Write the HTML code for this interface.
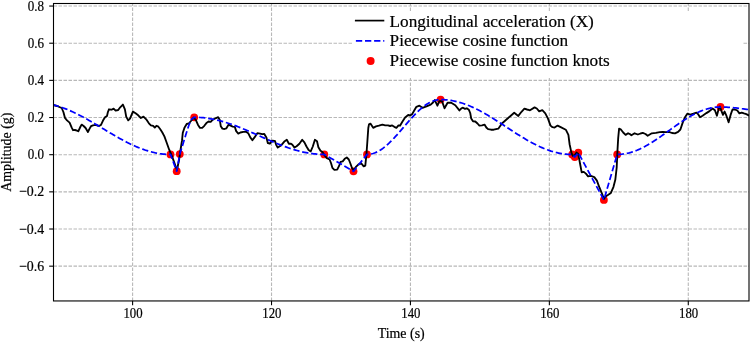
<!DOCTYPE html>
<html><head><meta charset="utf-8"><style>
html,body{margin:0;padding:0;background:#fff;}
svg{display:block;will-change:transform;}
text{font-family:"Liberation Serif",serif;fill:#000;stroke:#000;stroke-width:0.2px;}
</style></head><body>
<svg width="751" height="342" viewBox="0 0 751 342">
<rect width="751" height="342" fill="#fff"/>
<line x1="132.60" y1="300.95" x2="132.60" y2="3.5" stroke="#b8b8b8" stroke-width="1.1" stroke-dasharray="3.5 1.5"/>
<line x1="271.52" y1="300.95" x2="271.52" y2="3.5" stroke="#b8b8b8" stroke-width="1.1" stroke-dasharray="3.5 1.5"/>
<line x1="410.44" y1="300.95" x2="410.44" y2="3.5" stroke="#b8b8b8" stroke-width="1.1" stroke-dasharray="3.5 1.5"/>
<line x1="549.36" y1="300.95" x2="549.36" y2="3.5" stroke="#b8b8b8" stroke-width="1.1" stroke-dasharray="3.5 1.5"/>
<line x1="688.28" y1="300.95" x2="688.28" y2="3.5" stroke="#b8b8b8" stroke-width="1.1" stroke-dasharray="3.5 1.5"/>
<line x1="53.5" y1="6.05" x2="749.0" y2="6.05" stroke="#b8b8b8" stroke-width="1.1" stroke-dasharray="3.5 1.5"/>
<line x1="53.5" y1="43.21" x2="749.0" y2="43.21" stroke="#b8b8b8" stroke-width="1.1" stroke-dasharray="3.5 1.5"/>
<line x1="53.5" y1="80.37" x2="749.0" y2="80.37" stroke="#b8b8b8" stroke-width="1.1" stroke-dasharray="3.5 1.5"/>
<line x1="53.5" y1="117.53" x2="749.0" y2="117.53" stroke="#b8b8b8" stroke-width="1.1" stroke-dasharray="3.5 1.5"/>
<line x1="53.5" y1="154.69" x2="749.0" y2="154.69" stroke="#b8b8b8" stroke-width="1.1" stroke-dasharray="3.5 1.5"/>
<line x1="53.5" y1="191.85" x2="749.0" y2="191.85" stroke="#b8b8b8" stroke-width="1.1" stroke-dasharray="3.5 1.5"/>
<line x1="53.5" y1="229.01" x2="749.0" y2="229.01" stroke="#b8b8b8" stroke-width="1.1" stroke-dasharray="3.5 1.5"/>
<line x1="53.5" y1="266.17" x2="749.0" y2="266.17" stroke="#b8b8b8" stroke-width="1.1" stroke-dasharray="3.5 1.5"/>
<defs><clipPath id="ax"><rect x="53.5" y="3.5" width="695.5" height="297.45"/></clipPath></defs>
<g clip-path="url(#ax)">
<circle cx="34.8" cy="102.5" r="3.9" fill="#ff0000"/>
<circle cx="170.5" cy="154.4" r="3.9" fill="#ff0000"/>
<circle cx="176.7" cy="171.2" r="3.9" fill="#ff0000"/>
<circle cx="179.8" cy="154.1" r="3.9" fill="#ff0000"/>
<circle cx="194.2" cy="117.3" r="3.9" fill="#ff0000"/>
<circle cx="324.3" cy="154.4" r="3.9" fill="#ff0000"/>
<circle cx="353.5" cy="171.3" r="3.9" fill="#ff0000"/>
<circle cx="367.0" cy="154.4" r="3.9" fill="#ff0000"/>
<circle cx="440.6" cy="99.6" r="3.9" fill="#ff0000"/>
<circle cx="572.2" cy="154.5" r="3.9" fill="#ff0000"/>
<circle cx="574.8" cy="157.0" r="3.9" fill="#ff0000"/>
<circle cx="578.3" cy="152.7" r="3.9" fill="#ff0000"/>
<circle cx="603.9" cy="199.9" r="3.9" fill="#ff0000"/>
<circle cx="617.2" cy="154.4" r="3.9" fill="#ff0000"/>
<circle cx="720.5" cy="107.0" r="3.9" fill="#ff0000"/>
<circle cx="763.5" cy="110.5" r="3.9" fill="#ff0000"/>
<polyline points="53.00,105.00 57.00,106.00 61.70,108.00 63.40,112.00 65.00,118.00 67.00,120.40 69.60,122.60 71.60,127.30 73.00,130.20 75.00,130.00 77.00,130.60 78.30,131.30 80.30,127.00 81.60,124.60 83.60,126.00 85.60,128.00 87.90,132.00 89.60,128.60 91.00,126.20 93.00,125.30 95.60,124.90 99.00,126.00 101.00,124.90 103.00,120.60 105.00,117.30 107.00,116.00 107.90,112.00 109.00,109.30 111.60,109.70 113.60,108.60 115.60,110.60 118.20,110.00 120.20,107.30 122.90,104.60 124.90,109.30 126.20,116.60 128.20,120.40 130.00,118.60 132.90,111.60 135.60,113.30 138.20,115.30 140.90,118.00 143.50,116.60 146.20,119.30 148.90,123.30 150.90,125.30 153.20,125.80 154.80,127.60 156.40,125.80 158.00,126.30 160.10,129.00 162.20,132.20 164.40,136.40 165.90,140.50 169.20,149.70 172.50,157.60 175.80,166.80 177.00,169.80 179.00,160.30 180.50,150.00 182.00,140.70 182.80,132.70 184.60,127.40 186.70,124.00 188.90,123.30 191.00,121.00 193.70,117.60 195.80,119.90 197.90,124.70 200.00,127.90 202.20,127.90 204.30,125.80 206.40,123.10 208.60,121.50 210.70,121.80 212.80,119.70 215.50,118.30 218.20,117.20 219.80,119.90 220.80,126.30 222.40,128.60 224.50,129.00 226.40,128.30 228.50,124.70 230.60,125.70 232.70,126.60 234.80,126.90 236.20,131.10 238.30,133.60 240.40,132.50 243.30,131.80 246.10,131.80 248.20,133.20 250.30,137.40 252.40,140.20 254.50,137.40 257.30,133.20 260.10,133.60 262.20,134.20 264.30,133.90 266.40,137.40 267.80,143.00 269.90,143.70 272.00,140.60 274.90,140.90 276.30,145.10 277.70,147.60 279.80,146.20 282.60,143.70 284.70,141.20 286.80,139.80 288.90,143.70 291.00,143.70 292.40,144.80 294.50,147.60 296.60,146.20 299.40,143.70 302.20,139.80 304.40,142.30 306.50,146.50 308.60,150.00 310.70,151.40 312.80,146.50 314.90,139.80 317.00,141.20 318.40,147.20 320.50,150.70 322.50,152.00 324.10,154.70 326.90,158.20 329.60,159.50 331.00,163.00 332.40,167.80 334.40,169.80 337.20,169.60 339.20,165.70 340.60,161.90 342.70,161.30 344.70,158.80 346.80,157.50 348.80,159.50 350.20,163.00 351.90,167.80 353.70,170.50 355.70,167.10 358.50,164.30 361.20,163.20 363.70,166.40 365.30,165.70 366.40,154.70 367.40,141.00 368.30,128.00 369.00,124.30 370.40,123.60 373.20,127.80 376.00,126.40 378.90,125.70 382.40,124.60 385.20,125.40 388.00,125.40 390.10,126.00 392.20,125.40 394.30,126.80 396.40,127.80 398.50,125.40 400.00,125.70 402.50,121.50 405.10,117.50 408.20,115.00 410.20,115.50 412.30,113.90 414.50,110.00 416.40,106.80 419.40,105.70 422.50,107.80 426.50,106.30 430.70,104.70 433.00,102.50 434.80,100.10 437.40,105.70 439.40,101.10 442.00,101.10 444.50,108.30 447.60,102.70 451.20,102.70 455.30,105.20 459.40,110.40 461.40,108.30 463.00,107.70 465.00,108.90 466.80,108.30 468.80,109.70 470.20,113.00 471.20,118.50 473.00,121.30 475.30,121.50 477.50,123.50 479.40,125.60 482.00,125.30 484.50,124.60 486.30,127.50 488.10,129.20 491.00,129.70 493.70,129.70 498.30,128.70 501.90,123.50 504.50,121.20 507.00,119.00 510.50,116.00 514.20,112.80 518.30,115.90 521.50,111.80 524.40,108.70 527.00,109.50 529.50,110.20 530.00,110.20 534.60,107.40 536.80,108.50 539.20,111.30 542.30,110.20 545.30,113.30 547.90,118.40 550.50,125.60 552.50,127.20 554.60,127.60 557.60,125.60 560.70,127.10 565.80,129.70 568.40,134.80 569.60,144.20 571.40,152.60 572.80,155.80 574.60,155.20 576.60,152.60 578.10,153.80 579.30,159.60 580.50,166.00 581.70,172.40 583.80,171.90 585.90,173.60 588.10,176.30 590.80,175.90 594.30,177.10 596.90,180.60 599.50,187.70 602.10,193.80 603.90,199.00 605.60,196.40 608.30,194.70 610.90,192.90 613.50,186.80 615.30,179.80 616.70,167.50 617.50,150.00 618.20,138.00 619.10,128.70 620.70,129.30 623.20,132.50 625.60,134.90 628.10,133.30 629.80,134.00 631.40,135.30 634.60,133.30 637.90,134.50 640.50,133.50 642.80,132.90 645.50,134.00 647.70,135.70 651.80,133.30 655.90,132.90 659.70,132.10 662.80,131.80 665.90,132.10 668.90,131.80 672.00,133.00 675.00,133.30 678.10,131.80 680.40,129.50 682.70,122.60 685.00,117.20 687.30,113.70 690.40,114.60 693.40,113.70 696.50,112.60 698.00,114.10 700.00,117.20 702.60,115.70 706.40,113.10 709.50,111.10 712.60,108.50 714.90,110.30 716.90,115.70 718.70,108.80 719.90,106.50 721.50,111.10 723.00,114.90 724.50,111.50 726.40,115.70 728.60,122.30 730.60,114.90 732.50,109.50 734.80,109.50 737.10,110.30 739.40,113.40 741.70,112.60 744.00,113.40 746.30,114.10 749.30,115.70" fill="none" stroke="#000" stroke-width="1.85" stroke-linejoin="round" stroke-linecap="butt"/>
<polyline points="34.80,102.50 36.31,102.52 37.82,102.56 39.32,102.64 40.83,102.75 42.34,102.89 43.85,103.07 45.35,103.27 46.86,103.51 48.37,103.77 49.88,104.06 51.39,104.39 52.89,104.74 54.40,105.13 55.91,105.54 57.42,105.98 58.92,106.44 60.43,106.94 61.94,107.46 63.45,108.00 64.96,108.57 66.46,109.17 67.97,109.78 69.48,110.42 70.99,111.09 72.49,111.77 74.00,112.47 75.51,113.20 77.02,113.94 78.53,114.70 80.03,115.47 81.54,116.27 83.05,117.07 84.56,117.90 86.06,118.73 87.57,119.57 89.08,120.43 90.59,121.30 92.10,122.17 93.60,123.05 95.11,123.94 96.62,124.84 98.13,125.74 99.63,126.64 101.14,127.54 102.65,128.45 104.16,129.36 105.67,130.26 107.17,131.16 108.68,132.06 110.19,132.96 111.70,133.85 113.20,134.73 114.71,135.60 116.22,136.47 117.73,137.33 119.24,138.17 120.74,139.00 122.25,139.83 123.76,140.63 125.27,141.43 126.77,142.20 128.28,142.96 129.79,143.70 131.30,144.43 132.81,145.13 134.31,145.81 135.82,146.48 137.33,147.12 138.84,147.73 140.34,148.33 141.85,148.90 143.36,149.44 144.87,149.96 146.38,150.46 147.88,150.92 149.39,151.36 150.90,151.77 152.41,152.16 153.91,152.51 155.42,152.84 156.93,153.13 158.44,153.39 159.95,153.63 161.45,153.83 162.96,154.01 164.47,154.15 165.98,154.26 167.48,154.34 168.99,154.38 170.50,154.40 176.70,171.20 179.80,154.10 181.00,150.30 183.80,141.30 186.50,132.60 189.20,124.30 191.60,119.20 194.20,117.30 195.71,117.31 197.23,117.35 198.74,117.41 200.25,117.50 201.76,117.61 203.28,117.74 204.79,117.90 206.30,118.09 207.82,118.29 209.33,118.52 210.84,118.78 212.35,119.05 213.87,119.35 215.38,119.67 216.89,120.02 218.40,120.38 219.92,120.76 221.43,121.17 222.94,121.59 224.46,122.03 225.97,122.50 227.48,122.97 228.99,123.47 230.51,123.98 232.02,124.51 233.53,125.06 235.05,125.61 236.56,126.19 238.07,126.77 239.58,127.37 241.10,127.98 242.61,128.60 244.12,129.22 245.63,129.86 247.15,130.51 248.66,131.16 250.17,131.82 251.69,132.48 253.20,133.15 254.71,133.82 256.22,134.50 257.74,135.17 259.25,135.85 260.76,136.53 262.28,137.20 263.79,137.88 265.30,138.55 266.81,139.22 268.33,139.88 269.84,140.54 271.35,141.19 272.87,141.84 274.38,142.48 275.89,143.10 277.40,143.72 278.92,144.33 280.43,144.93 281.94,145.51 283.45,146.09 284.97,146.64 286.48,147.19 287.99,147.72 289.51,148.23 291.02,148.73 292.53,149.20 294.04,149.67 295.56,150.11 297.07,150.53 298.58,150.94 300.10,151.32 301.61,151.68 303.12,152.03 304.63,152.35 306.15,152.65 307.66,152.92 309.17,153.18 310.68,153.41 312.20,153.61 313.71,153.80 315.22,153.96 316.74,154.09 318.25,154.20 319.76,154.29 321.27,154.35 322.79,154.39 324.30,154.40 353.50,171.30 367.00,154.40 368.50,154.34 370.00,154.18 371.51,153.89 373.01,153.50 374.51,153.00 376.01,152.40 377.51,151.69 379.02,150.87 380.52,149.96 382.02,148.96 383.52,147.86 385.02,146.68 386.53,145.42 388.03,144.08 389.53,142.68 391.03,141.20 392.53,139.67 394.04,138.09 395.54,136.46 397.04,134.80 398.54,133.10 400.04,131.37 401.55,129.63 403.05,127.88 404.55,126.12 406.05,124.37 407.56,122.63 409.06,120.90 410.56,119.20 412.06,117.54 413.56,115.91 415.07,114.33 416.57,112.80 418.07,111.32 419.57,109.92 421.07,108.58 422.58,107.32 424.08,106.14 425.58,105.04 427.08,104.04 428.58,103.13 430.09,102.31 431.59,101.60 433.09,101.00 434.59,100.50 436.09,100.11 437.60,99.82 439.10,99.66 440.60,99.60 442.11,99.62 443.63,99.67 445.14,99.76 446.65,99.89 448.16,100.05 449.68,100.24 451.19,100.47 452.70,100.74 454.21,101.04 455.73,101.37 457.24,101.74 458.75,102.14 460.26,102.57 461.78,103.03 463.29,103.53 464.80,104.06 466.31,104.61 467.83,105.20 469.34,105.81 470.85,106.45 472.37,107.12 473.88,107.82 475.39,108.54 476.90,109.28 478.42,110.05 479.93,110.84 481.44,111.65 482.95,112.48 484.47,113.32 485.98,114.19 487.49,115.08 489.00,115.98 490.52,116.89 492.03,117.82 493.54,118.76 495.06,119.71 496.57,120.67 498.08,121.63 499.59,122.61 501.11,123.59 502.62,124.58 504.13,125.56 505.64,126.55 507.16,127.55 508.67,128.54 510.18,129.52 511.69,130.51 513.21,131.49 514.72,132.47 516.23,133.43 517.74,134.39 519.26,135.34 520.77,136.28 522.28,137.21 523.80,138.12 525.31,139.02 526.82,139.91 528.33,140.77 529.85,141.62 531.36,142.45 532.87,143.26 534.38,144.05 535.90,144.82 537.41,145.56 538.92,146.28 540.43,146.98 541.95,147.65 543.46,148.29 544.97,148.90 546.49,149.49 548.00,150.04 549.51,150.57 551.02,151.07 552.54,151.53 554.05,151.96 555.56,152.36 557.07,152.73 558.59,153.06 560.10,153.36 561.61,153.63 563.12,153.86 564.64,154.05 566.15,154.21 567.66,154.34 569.17,154.43 570.69,154.48 572.20,154.50 574.80,157.00 578.30,152.70 603.90,199.90 617.20,154.40 618.72,154.37 620.24,154.30 621.76,154.17 623.28,154.00 624.80,153.77 626.31,153.50 627.83,153.17 629.35,152.80 630.87,152.38 632.39,151.92 633.91,151.40 635.43,150.85 636.95,150.25 638.47,149.61 639.99,148.93 641.51,148.21 643.03,147.46 644.54,146.67 646.06,145.84 647.58,144.98 649.10,144.09 650.62,143.18 652.14,142.23 653.66,141.26 655.18,140.27 656.70,139.26 658.22,138.23 659.74,137.19 661.25,136.13 662.77,135.05 664.29,133.97 665.81,132.89 667.33,131.79 668.85,130.70 670.37,129.61 671.89,128.51 673.41,127.43 674.93,126.35 676.45,125.27 677.96,124.21 679.48,123.17 681.00,122.14 682.52,121.13 684.04,120.14 685.56,119.17 687.08,118.22 688.60,117.31 690.12,116.42 691.64,115.56 693.16,114.73 694.67,113.94 696.19,113.19 697.71,112.47 699.23,111.79 700.75,111.15 702.27,110.55 703.79,110.00 705.31,109.48 706.83,109.02 708.35,108.60 709.87,108.23 711.39,107.90 712.90,107.63 714.42,107.40 715.94,107.23 717.46,107.10 718.98,107.03 720.50,107.00 722.04,107.01 723.57,107.04 725.11,107.10 726.64,107.17 728.18,107.27 729.71,107.38 731.25,107.51 732.79,107.66 734.32,107.82 735.86,107.99 737.39,108.17 738.93,108.36 740.46,108.55 742.00,108.75 743.54,108.95 745.07,109.14 746.61,109.33 748.14,109.51 749.68,109.68 751.21,109.84 752.75,109.99 754.29,110.12 755.82,110.23 757.36,110.33 758.89,110.40 760.43,110.46 761.96,110.49 763.50,110.50" fill="none" stroke="#0000ff" stroke-width="1.75" stroke-dasharray="6.3 2.8" stroke-linejoin="round"/>
</g>
<rect x="53.5" y="3.5" width="695.50" height="297.45" fill="none" stroke="#000" stroke-width="1.1"/>
<line x1="132.60" y1="300.95" x2="132.60" y2="305.25" stroke="#000" stroke-width="1.1"/>
<text transform="translate(133.00,317.6) scale(0.92,1.04)" font-size="13.9" text-anchor="middle">100</text>
<line x1="271.52" y1="300.95" x2="271.52" y2="305.25" stroke="#000" stroke-width="1.1"/>
<text transform="translate(271.92,317.6) scale(0.92,1.04)" font-size="13.9" text-anchor="middle">120</text>
<line x1="410.44" y1="300.95" x2="410.44" y2="305.25" stroke="#000" stroke-width="1.1"/>
<text transform="translate(410.84,317.6) scale(0.92,1.04)" font-size="13.9" text-anchor="middle">140</text>
<line x1="549.36" y1="300.95" x2="549.36" y2="305.25" stroke="#000" stroke-width="1.1"/>
<text transform="translate(549.76,317.6) scale(0.92,1.04)" font-size="13.9" text-anchor="middle">160</text>
<line x1="688.28" y1="300.95" x2="688.28" y2="305.25" stroke="#000" stroke-width="1.1"/>
<text transform="translate(688.68,317.6) scale(0.92,1.04)" font-size="13.9" text-anchor="middle">180</text>
<line x1="49.20" y1="6.05" x2="53.5" y2="6.05" stroke="#000" stroke-width="1.1"/>
<text transform="translate(44.10,10.55) scale(0.94,1.06)" font-size="13.9" text-anchor="end">0.8</text>
<line x1="49.20" y1="43.21" x2="53.5" y2="43.21" stroke="#000" stroke-width="1.1"/>
<text transform="translate(44.10,47.71) scale(0.94,1.06)" font-size="13.9" text-anchor="end">0.6</text>
<line x1="49.20" y1="80.37" x2="53.5" y2="80.37" stroke="#000" stroke-width="1.1"/>
<text transform="translate(44.10,84.87) scale(0.94,1.06)" font-size="13.9" text-anchor="end">0.4</text>
<line x1="49.20" y1="117.53" x2="53.5" y2="117.53" stroke="#000" stroke-width="1.1"/>
<text transform="translate(44.10,122.03) scale(0.94,1.06)" font-size="13.9" text-anchor="end">0.2</text>
<line x1="49.20" y1="154.69" x2="53.5" y2="154.69" stroke="#000" stroke-width="1.1"/>
<text transform="translate(44.10,159.19) scale(0.94,1.06)" font-size="13.9" text-anchor="end">0.0</text>
<line x1="49.20" y1="191.85" x2="53.5" y2="191.85" stroke="#000" stroke-width="1.1"/>
<text transform="translate(44.10,196.35) scale(1.0,1.06)" font-size="13.9" text-anchor="end">−0.2</text>
<line x1="49.20" y1="229.01" x2="53.5" y2="229.01" stroke="#000" stroke-width="1.1"/>
<text transform="translate(44.10,233.51) scale(1.0,1.06)" font-size="13.9" text-anchor="end">−0.4</text>
<line x1="49.20" y1="266.17" x2="53.5" y2="266.17" stroke="#000" stroke-width="1.1"/>
<text transform="translate(44.10,270.67) scale(1.0,1.06)" font-size="13.9" text-anchor="end">−0.6</text>
<text x="401.2" y="337.9" font-size="13.9" text-anchor="middle">Time (s)</text>
<text transform="translate(11.2,152.2) rotate(-90)" x="0" y="0" font-size="13.9" text-anchor="middle">Amplitude (g)</text>
<rect x="353" y="12" width="390" height="66" fill="#fff"/>
<line x1="354.9" y1="20.6" x2="384.3" y2="20.6" stroke="#000" stroke-width="1.7"/>
<line x1="355.9" y1="40.8" x2="384.3" y2="40.8" stroke="#0000ff" stroke-width="1.75" stroke-dasharray="6.3 2.8"/>
<circle cx="370.6" cy="60.9" r="4.0" fill="#ff0000"/>
<text x="389.6" y="27.1" font-size="17.2">Longitudinal acceleration (X)</text>
<text x="389.6" y="45.9" font-size="17.2">Piecewise cosine function</text>
<text x="389.6" y="65.7" font-size="17.2">Piecewise cosine function knots</text>
</svg>
</body></html>
